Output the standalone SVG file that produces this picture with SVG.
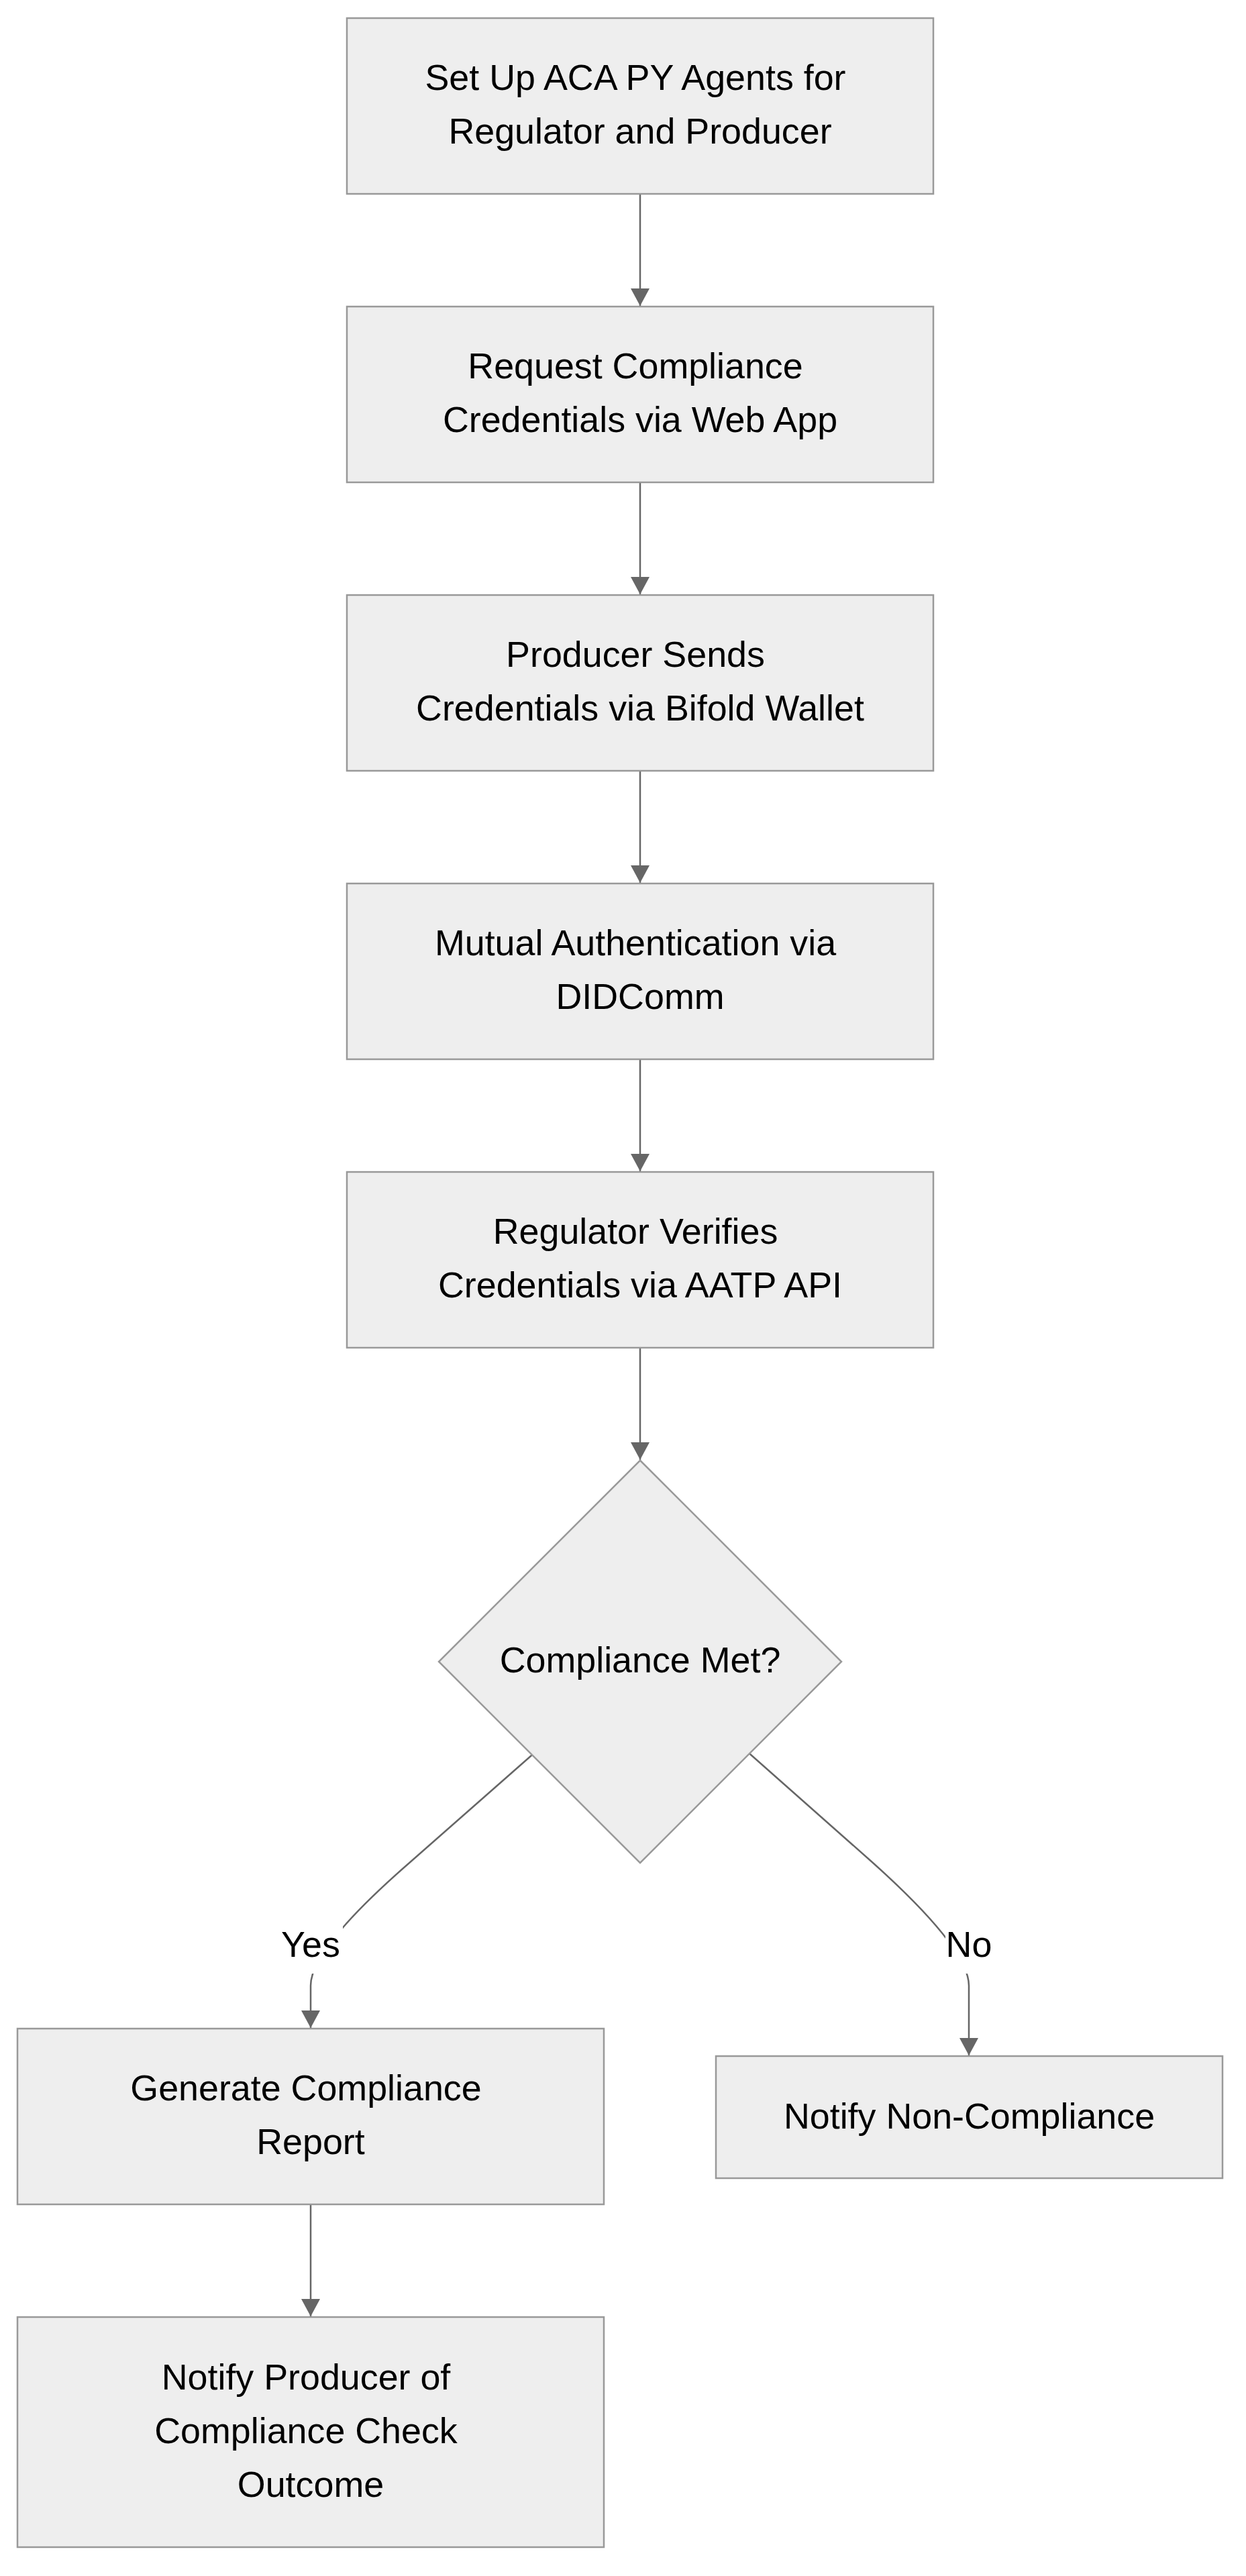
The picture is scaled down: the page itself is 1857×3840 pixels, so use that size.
<svg xmlns="http://www.w3.org/2000/svg" width="1857" height="3840" viewBox="0 0 1857 3840">
<style>
.node rect, .node polygon { fill: #eeeeee; stroke: #999999; stroke-width: 2.5; }
.node text, .lbl text { font-family: "Liberation Sans", Arial, sans-serif; font-size: 53.8px; fill: #000000; text-anchor: middle; }
.edges path { fill: none; stroke: #666666; stroke-width: 2.5; }
.lbl rect { fill: #ffffff; stroke: none; }
</style>
<defs>
<marker id="arrow" viewBox="0 0 10 10" refX="10" refY="5" markerUnits="userSpaceOnUse" markerWidth="26" markerHeight="28" preserveAspectRatio="none" orient="auto">
<path d="M0,0 L10,5 L0,10 z" fill="#666666"/>
</marker>
</defs>
<rect x="0" y="0" width="1857" height="3840" fill="#ffffff"/>
<g id="connectors" class="edges">
<path d="M954,289 L954,456" marker-end="url(#arrow)"/>
<path d="M954,719 L954,886" marker-end="url(#arrow)"/>
<path d="M954,1149 L954,1316" marker-end="url(#arrow)"/>
<path d="M954,1579 L954,1746" marker-end="url(#arrow)"/>
<path d="M954,2009 L954,2176" marker-end="url(#arrow)"/>
<path d="M793,2616 L610,2777 Q463,2905 463,2960 L463,3023" marker-end="url(#arrow)"/>
<path d="M1117,2614 L1300,2776 Q1444,2905 1444,2960 L1444,3064" marker-end="url(#arrow)"/>
<path d="M463,3286 L463,3453" marker-end="url(#arrow)"/>
</g>
<g id="label-yes" class="lbl">
<rect x="416" y="2862" width="95" height="80"/>
<text x="463" y="2917">Yes</text>
</g>
<g id="label-no" class="lbl">
<rect x="1409" y="2862" width="71" height="80"/>
<text x="1444" y="2917">No</text>
</g>
<g id="node-setup" class="node">
<rect x="517" y="27" width="874" height="262"/>
<text x="947" y="134">Set Up ACA PY Agents for</text>
<text x="954" y="214">Regulator and Producer</text>
</g>
<g id="node-request" class="node">
<rect x="517" y="457" width="874" height="262"/>
<text x="947" y="564">Request Compliance</text>
<text x="954" y="644">Credentials via Web App</text>
</g>
<g id="node-send" class="node">
<rect x="517" y="887" width="874" height="262"/>
<text x="947" y="994">Producer Sends</text>
<text x="954" y="1074">Credentials via Bifold Wallet</text>
</g>
<g id="node-auth" class="node">
<rect x="517" y="1317" width="874" height="262"/>
<text x="947" y="1424">Mutual Authentication via</text>
<text x="954" y="1504">DIDComm</text>
</g>
<g id="node-verify" class="node">
<rect x="517" y="1747" width="874" height="262"/>
<text x="947" y="1854">Regulator Verifies</text>
<text x="954" y="1934">Credentials via AATP API</text>
</g>
<g id="node-decision" class="node">
<polygon points="954,2177 1254,2477 954,2777 654,2477"/>
<text x="954" y="2493">Compliance Met?</text>
</g>
<g id="node-report" class="node">
<rect x="26" y="3024" width="874" height="262"/>
<text x="456" y="3131">Generate Compliance</text>
<text x="463" y="3211">Report</text>
</g>
<g id="node-notify-producer" class="node">
<rect x="26" y="3454" width="874" height="343"/>
<text x="456" y="3562">Notify Producer of</text>
<text x="456" y="3642">Compliance Check</text>
<text x="463" y="3722">Outcome</text>
</g>
<g id="node-noncompliance" class="node">
<rect x="1067" y="3065" width="755" height="182"/>
<text x="1444.5" y="3173">Notify Non-Compliance</text>
</g>
</svg>
